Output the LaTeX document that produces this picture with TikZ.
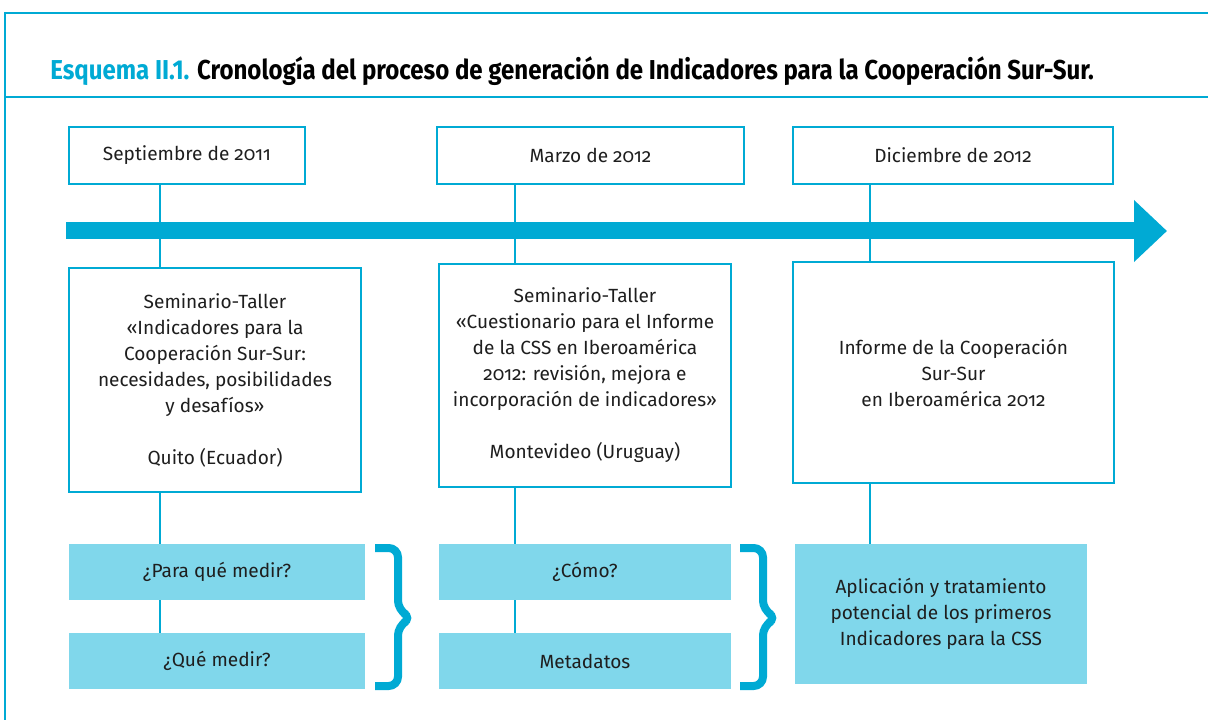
\documentclass[tikz,border=0pt]{standalone}
\usepackage{fontspec}
\setmainfont{Fira Sans}[Numbers=OldStyle]
\newfontfamily\titlefont{Fira Sans}[FakeStretch=0.88]
\usetikzlibrary{arrows.meta}
\definecolor{celeste}{RGB}{0,170,212}
\definecolor{celeste-light}{RGB}{128,215,235}
\definecolor{texto}{RGB}{30,30,30}

\tikzset{
  fecha/.style={draw=celeste, line width=1.5pt, fill=white, minimum height=42.75pt, text=texto,
    font=\fontsize{14.3}{19.5}\selectfont},
  evento/.style={draw=celeste, line width=1.5pt, fill=white, minimum width=219pt, text=texto,
    align=center, font=\fontsize{14.3}{19.5}\selectfont},
  pregunta/.style={fill=celeste-light, minimum width=219pt, minimum height=42pt, text=texto,
    align=center, font=\fontsize{14.3}{19.5}\selectfont},
  enlace/.style={draw=celeste, line width=1pt},
  llave/.style={draw=celeste, line width=6pt, rounded corners=7pt},
}

\begin{document}
\begin{tikzpicture}[x=0.75pt, y=-0.75pt]

    \useasboundingbox (0,0) rectangle (1208,720);

    % marco y cabecera
    \draw[celeste, line width=2.2pt] (4,13) -- (1208,13);
    \draw[celeste, line width=2.2pt] (5,12) -- (5,720);
    \draw[celeste, line width=2.2pt] (5,97) -- (1208,97);
    \node[anchor=base west, inner sep=0pt, font=\titlefont\bfseries\fontsize{20.5}{24}\selectfont] (titulo) at (50,80)
        {\textcolor{celeste}{Esquema II.1.} Cronología del proceso de generación de Indicadores para la Cooperación Sur-Sur.};

    % linea de tiempo
    \coordinate (t0) at (66,231);
    \coordinate (t1) at (1167,231);
    \draw[celeste, line width=12.75pt, -{Triangle[length=24.75pt 0 0, width=45pt 0 0]}] (t0) -- (t1);

    \coordinate (xA) at (160,0);
    \coordinate (xB) at (515,0);
    \coordinate (xC) at (870,0);

    % fechas
    \node[fecha, minimum width=177pt] (fechaA) at (187,155.5) {Septiembre de 2011};
    \node[fecha, minimum width=230.25pt] (fechaB) at (590.5,155.5) {Marzo de 2012};
    \node[fecha, minimum width=240pt] (fechaC) at (953,155.5) {Diciembre de 2012};

    % eventos
    \node[evento, minimum height=168pt] (eventoA) at (215,380)
        {Seminario-Taller\\«Indicadores para la\\Cooperación Sur-Sur:\\necesidades, posibilidades\\y desafíos»\\[19.5pt]Quito (Ecuador)};
    \node[evento, minimum height=167.25pt] (eventoB) at (585,375.5)
        {Seminario-Taller\\«Cuestionario para el Informe\\de la CSS en Iberoamérica\\2012: revisión, mejora e\\incorporación de indicadores»\\[19.5pt]Montevideo (Uruguay)};
    \node[evento, minimum width=240.75pt, minimum height=165.75pt] (eventoC) at (953.5,372.5)
        {Informe de la Cooperación\\Sur-Sur\\en Iberoamérica 2012};

    % preguntas
    \node[pregunta, minimum width=222pt] (medirA) at (217,572) {¿Para qué medir?};
    \node[pregunta, minimum width=222pt] (queA) at (217,661) {¿Qué medir?};
    \node[pregunta] (comoB) at (585,572) {¿Cómo?};
    \node[pregunta] (metaB) at (585,661) {Metadatos};
    \node[pregunta, minimum height=105pt] (aplicC) at (941,614)
        {Aplicación y tratamiento\\potencial de los primeros\\Indicadores para la CSS};

    % enlaces
    \draw[enlace] (fechaA.south -| xA) -- (eventoA.north -| xA);
    \draw[enlace] (fechaB.south -| xB) -- (eventoB.north -| xB);
    \draw[enlace] (fechaC.south -| xC) -- (eventoC.north -| xC);
    \draw[enlace] (eventoA.south -| xA) -- (medirA.north -| xA);
    \draw[enlace] (medirA.south -| xA) -- (queA.north -| xA);
    \draw[enlace] (eventoB.south -| xB) -- (comoB.north -| xB);
    \draw[enlace] (comoB.south -| xB) -- (metaB.north -| xB);
    \draw[enlace] (eventoC.south -| xC) -- (aplicC.north -| xC);

    % llaves
    \draw[llave] (375,548) -- (398,548) -- (398,610) -- (412,618) -- (398,626) -- (398,686) -- (375,686);
    \draw[llave] (740,548) -- (763,548) -- (763,610) -- (777,618) -- (763,626) -- (763,686) -- (740,686);

\end{tikzpicture}
\end{document}
